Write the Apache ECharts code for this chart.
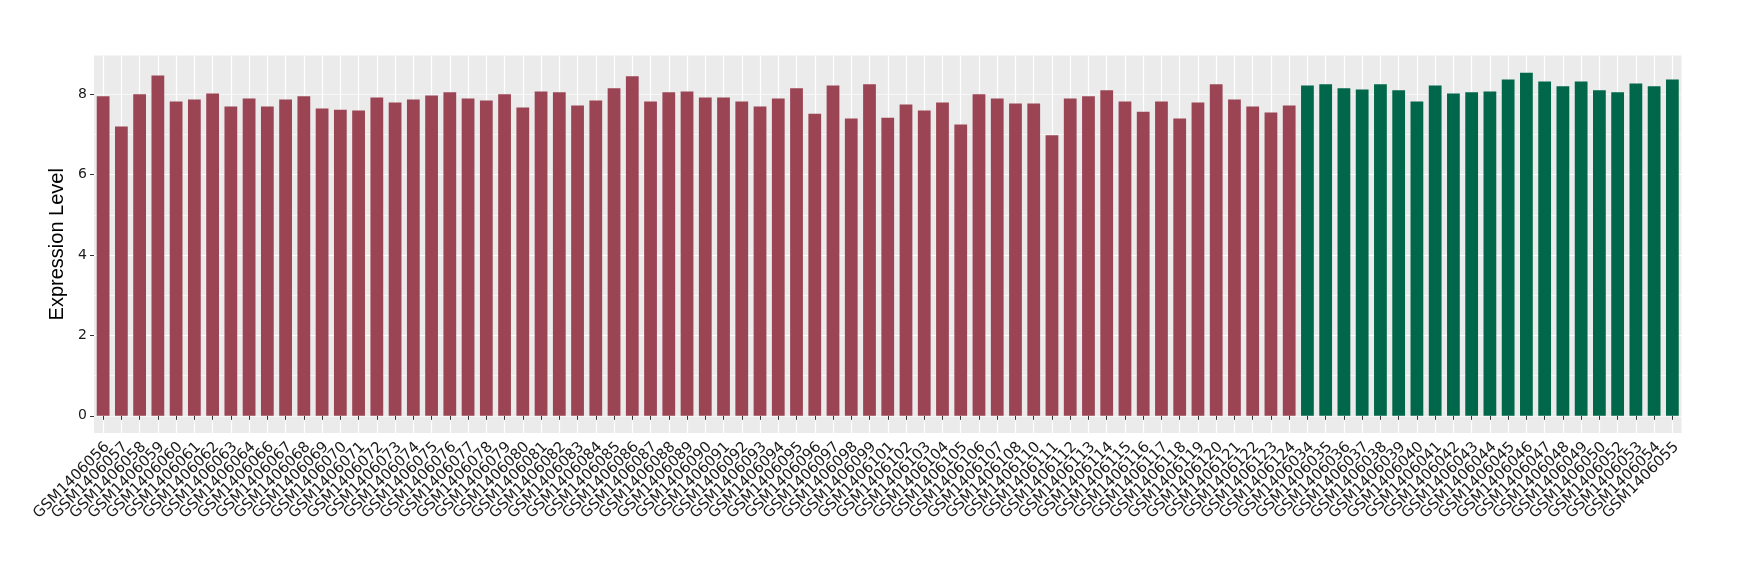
<!DOCTYPE html>
<html>
<head>
<meta charset="utf-8">
<script src="https://cdn.jsdelivr.net/npm/echarts@6/dist/echarts.min.js"></script>
<style>
  html, body { margin: 0; padding: 0; background: #ffffff; }
  #chart { width: 1740px; height: 580px; }
</style>
</head>
<body>
<div id="chart"></div>
<script>
// ---- Data ----
const redSamples = [
  'GSM1406056','GSM1406057','GSM1406058','GSM1406059','GSM1406060','GSM1406061','GSM1406062','GSM1406063',
  'GSM1406064','GSM1406066','GSM1406067','GSM1406068','GSM1406069','GSM1406070','GSM1406071','GSM1406072',
  'GSM1406073','GSM1406074','GSM1406075','GSM1406076','GSM1406077','GSM1406078','GSM1406079','GSM1406080',
  'GSM1406081','GSM1406082','GSM1406083','GSM1406084','GSM1406085','GSM1406086','GSM1406087','GSM1406088',
  'GSM1406089','GSM1406090','GSM1406091','GSM1406092','GSM1406093','GSM1406094','GSM1406095','GSM1406096',
  'GSM1406097','GSM1406098','GSM1406099','GSM1406101','GSM1406102','GSM1406103','GSM1406104','GSM1406105',
  'GSM1406106','GSM1406107','GSM1406108','GSM1406110','GSM1406111','GSM1406112','GSM1406113','GSM1406114',
  'GSM1406115','GSM1406116','GSM1406117','GSM1406118','GSM1406119','GSM1406120','GSM1406121','GSM1406122',
  'GSM1406123','GSM1406124'
];
const redValues = [
  7.95, 7.20, 8.00, 8.47, 7.82, 7.87, 8.02, 7.70,
  7.90, 7.70, 7.87, 7.95, 7.65, 7.62, 7.60, 7.92,
  7.80, 7.87, 7.97, 8.05, 7.90, 7.85, 8.00, 7.67,
  8.07, 8.05, 7.72, 7.85, 8.15, 8.45, 7.82, 8.05,
  8.07, 7.92, 7.92, 7.82, 7.70, 7.90, 8.15, 7.52,
  8.22, 7.40, 8.25, 7.42, 7.75, 7.60, 7.80, 7.25,
  8.00, 7.90, 7.77, 7.77, 6.98, 7.90, 7.95, 8.10,
  7.82, 7.57, 7.82, 7.40, 7.80, 8.25, 7.87, 7.70,
  7.55, 7.72
];
const greenSamples = [
  'GSM1406034','GSM1406035','GSM1406036','GSM1406037','GSM1406038','GSM1406039','GSM1406040','GSM1406041',
  'GSM1406042','GSM1406043','GSM1406044','GSM1406045','GSM1406046','GSM1406047','GSM1406048','GSM1406049',
  'GSM1406050','GSM1406052','GSM1406053','GSM1406054','GSM1406055'
];
const greenValues = [
  8.22, 8.25, 8.15, 8.12, 8.25, 8.10, 7.82, 8.22,
  8.02, 8.05, 8.07, 8.37, 8.54, 8.32, 8.20, 8.32,
  8.10, 8.05, 8.27, 8.20, 8.37
];
const yTicks = [0, 2, 4, 6, 8];
const yRange = [-0.427, 8.967];

// ---- Build chart ----
const redColor = '#9B4453';
const greenColor = '#00674A';
const categories = redSamples.concat(greenSamples);
const barData = redValues.map(v => ({ value: v, itemStyle: { color: redColor } }))
  .concat(greenValues.map(v => ({ value: v, itemStyle: { color: greenColor } })));

const font = '"Liberation Sans", Arial, Helvetica, sans-serif';
const labelFont = '"DejaVu Sans", sans-serif';
const chart = echarts.init(document.getElementById('chart'), null, { renderer: 'canvas' });

chart.setOption({
  animation: false,
  backgroundColor: '#ffffff',
  grid: {
    left: 94, right: 58.5, top: 55.5, bottom: 147,
    show: true, backgroundColor: '#EBEBEB', borderWidth: 0
  },
  xAxis: {
    type: 'category',
    data: categories,
    boundaryGap: true,
    axisLine: { show: false },
    axisTick: { show: true, alignWithLabel: true, length: 4, lineStyle: { color: '#333333', width: 1 } },
    splitLine: { show: true, alignWithLabel: true, lineStyle: { color: '#ffffff', width: 1.2 } },
    axisLabel: {
      interval: 0, rotate: 45, margin: 16,
      padding: [0, -6, 0, 0],
      fontFamily: labelFont, fontSize: 15, color: '#1a1a1a'
    }
  },
  yAxis: [
    {
      type: 'value',
      min: yRange[0], max: yRange[1],
      splitNumber: 5,
      position: 'left',
      name: 'Expression Level',
      nameLocation: 'middle',
      nameRotate: 90,
      nameGap: 20,
      nameTextStyle: { fontFamily: font, fontSize: 20, color: '#000000' },
      axisLine: { show: false },
      axisTick: { show: true, length: 4, customValues: yTicks, lineStyle: { color: '#333333', width: 1 } },
      axisLabel: {
        customValues: yTicks, margin: 7,
        fontFamily: labelFont, fontSize: 14, color: '#1a1a1a',
        formatter: v => String(Math.round(v))
      },
      splitLine: { show: true, showMinLine: false, showMaxLine: false, lineStyle: { color: '#ffffff', width: 1.2 } }
    },
    {
      type: 'value',
      min: yRange[0], max: yRange[1],
      splitNumber: 9,
      position: 'right',
      axisLine: { show: false },
      axisTick: { show: false },
      axisLabel: { show: false },
      splitLine: { show: true, showMinLine: false, showMaxLine: false, lineStyle: { color: '#ffffff', width: 0.6 } }
    }
  ],
  series: [
    {
      type: 'bar',
      yAxisIndex: 0,
      data: barData,
      barCategoryGap: '30%'
    }
  ]
});
</script>
</body>
</html>
